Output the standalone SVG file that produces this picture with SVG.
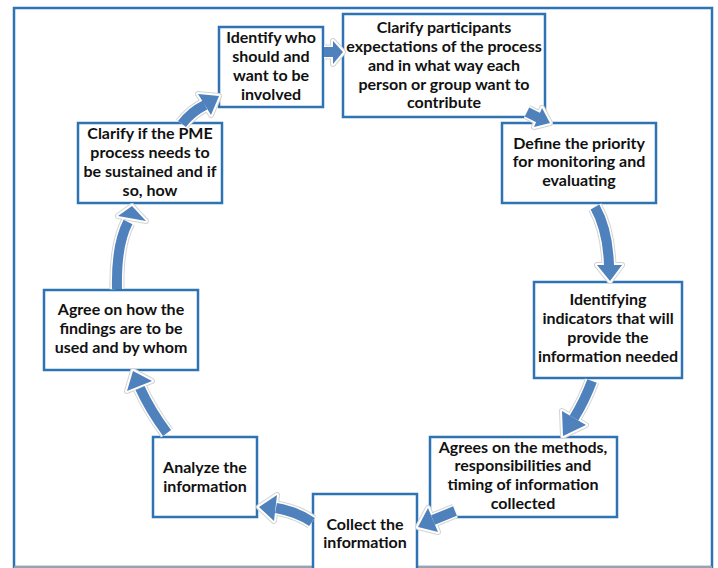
<svg xmlns="http://www.w3.org/2000/svg" xmlns:xlink="http://www.w3.org/1999/xlink" width="718" height="568" viewBox="0 0 718 568">
<style>
.box{fill:#fff;stroke:#2E74B5;stroke-width:2.5}
.t{font-family:Lato,"Liberation Sans",sans-serif;font-weight:bold;font-size:16px;fill:#111;text-anchor:middle}
.sh1{fill:none;stroke:#d4d4d4;stroke-width:15;stroke-linejoin:round}
.hd1{fill:#d4d4d4;stroke:#d4d4d4;stroke-width:6;stroke-linejoin:round}
.sh2{fill:none;stroke:#fff;stroke-width:13;stroke-linejoin:round}
.hd2{fill:#fff;stroke:#fff;stroke-width:4;stroke-linejoin:round}
.sh3{fill:none;stroke:#4F81BD;stroke-width:10}
.hd3{fill:#4F81BD;stroke:none}
</style>
<defs>
<g id="shafts">
<path d="M182,124 Q191,112 205,105"/>
<path d="M324,52 L334,52"/>
<path d="M527,112 L539,118"/>
<path d="M595,207 Q608,230 609,266"/>
<path d="M592,381 Q585,400 574,418"/>
<path d="M455,511 L433,520"/>
<path d="M312,522 Q298,512 276,508"/>
<path d="M167,433 Q150,410 140,388"/>
<path d="M117,289 Q116,245 128,222"/>
</g>
<g id="heads">
<polygon points="219,96 198,94 211,115"/>
<polygon points="343,52 333,41 333,64"/>
<polygon points="550,123 542,108 534,127"/>
<polygon points="597,265 622,265 610,281"/>
<polygon points="563,436 562,411 586,425"/>
<polygon points="418,527 428,508 438,532"/>
<polygon points="259,507 277,495 274,521"/>
<polygon points="133,371 127,391 152,381"/>
<polygon points="132,206 118,216 146,221"/>
</g>
</defs>
<rect x="14" y="8" width="698" height="559" fill="#fff" stroke="#2E74B5" stroke-width="2.5"/>
<line x1="14" y1="567" x2="712" y2="567" stroke="#9aa3ad" stroke-width="2"/>
<g id="n1"><rect class="box" x="219" y="27" width="104" height="80"/>
<text class="t" x="271" y="43">Identify who</text><text class="t" x="271" y="62">should and</text><text class="t" x="271" y="81">want to be</text><text class="t" x="271" y="100">involved</text></g>
<g id="n2"><rect class="box" x="343" y="14" width="202" height="103"/>
<text class="t" x="444" y="33">Clarify participants</text><text class="t" x="444" y="52">expectations of the process</text><text class="t" x="444" y="71">and in what way each</text><text class="t" x="444" y="90">person or group want to</text><text class="t" x="444" y="108">contribute</text></g>
<g id="n3"><rect class="box" x="502" y="123" width="154" height="80"/>
<text class="t" x="579" y="149">Define the priority</text><text class="t" x="579" y="167">for monitoring and</text><text class="t" x="579" y="186">evaluating</text></g>
<g id="n4"><rect class="box" x="534" y="282" width="148" height="96"/>
<text class="t" x="608" y="305">Identifying</text><text class="t" x="608" y="324">indicators that will</text><text class="t" x="608" y="343">provide the</text><text class="t" x="608" y="362">information needed</text></g>
<g id="n5"><rect class="box" x="430" y="437" width="187" height="80"/>
<text class="t" x="523" y="453">Agrees on the methods,</text><text class="t" x="523" y="471">responsibilities and</text><text class="t" x="523" y="490">timing of information</text><text class="t" x="523" y="509">collected</text></g>
<g id="n6"><rect class="box" x="313" y="494" width="104" height="80"/>
<text class="t" x="365" y="530">Collect the</text><text class="t" x="365" y="548">information</text></g>
<g id="n7"><rect class="box" x="153" y="437" width="104" height="80"/>
<text class="t" x="205" y="473">Analyze the</text><text class="t" x="205" y="492">information</text></g>
<g id="n8"><rect class="box" x="44" y="290" width="154" height="80"/>
<text class="t" x="121" y="315">Agree on how the</text><text class="t" x="121" y="334">findings are to be</text><text class="t" x="121" y="353">used and by whom</text></g>
<g id="n9"><rect class="box" x="78" y="123" width="144" height="80"/>
<text class="t" x="150" y="139">Clarify if the PME</text><text class="t" x="150" y="158">process needs to</text><text class="t" x="150" y="177">be sustained and if</text><text class="t" x="150" y="196">so, how</text></g>
<g id="connectors">
<use xlink:href="#shafts" class="sh1"/>
<use xlink:href="#heads" class="hd1"/>
<use xlink:href="#shafts" class="sh2"/>
<use xlink:href="#heads" class="hd2"/>
<use xlink:href="#shafts" class="sh3"/>
<use xlink:href="#heads" class="hd3"/>
</g>
</svg>
